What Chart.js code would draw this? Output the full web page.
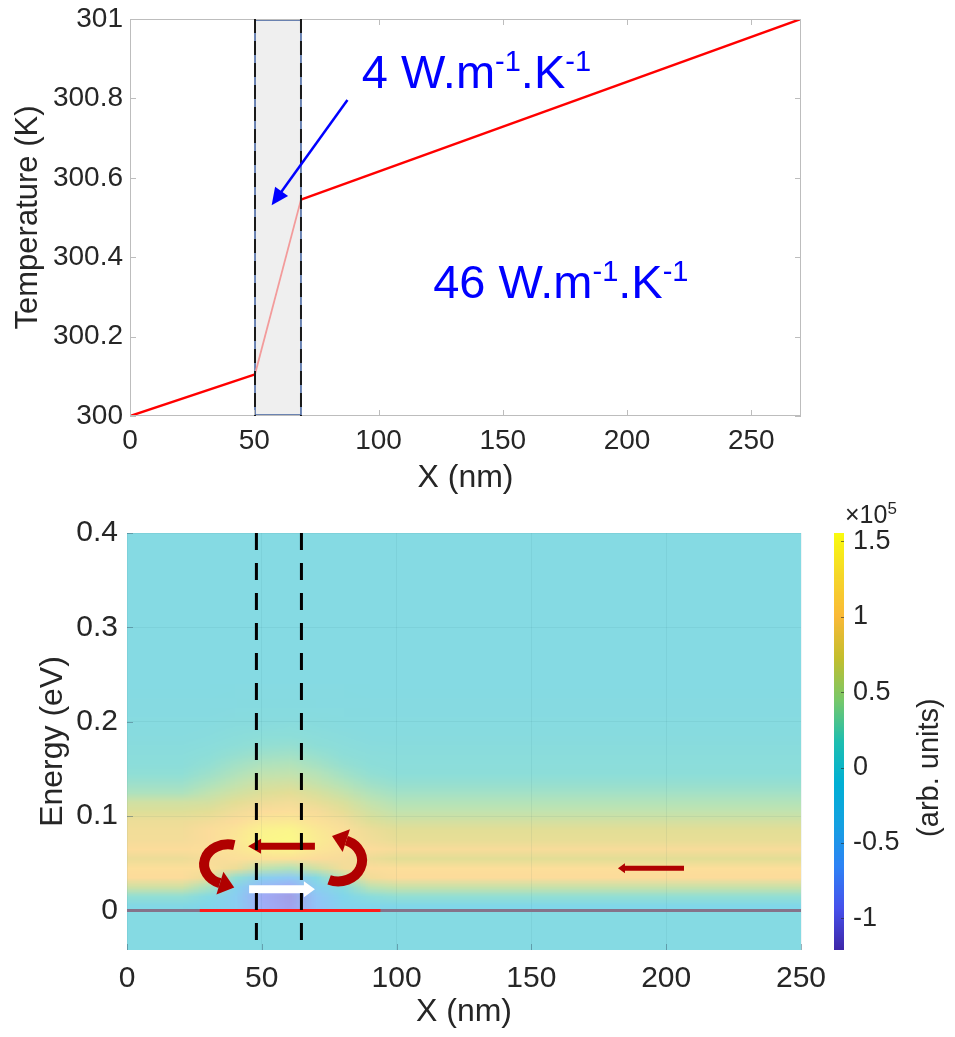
<!DOCTYPE html>
<html>
<head>
<meta charset="utf-8">
<script src="https://cdn.jsdelivr.net/npm/chart.js@4.4.1/dist/chart.umd.min.js"></script>
<style>
  html, body { margin: 0; padding: 0; background: #fff; }
  #wrap { position: relative; width: 955px; height: 1037px; }
  #top { position: absolute; left: 0; top: 0; width: 955px; height: 500px; }
  #bottom { position: absolute; left: 0; top: 500px; width: 955px; height: 537px; }
</style>
</head>
<body>
<div id="wrap">
  <canvas id="top" width="955" height="500"></canvas>
  <canvas id="bottom" width="955" height="537"></canvas>
</div>
<script>
// ---- top panel: temperature profile ----
const tempX = [0, 50.3, 68.8, 270];
const tempK = [300, 300.105, 300.545, 301];
const topXTicks = [0, 50, 100, 150, 200, 250];
const topYTicks = [300, 300.2, 300.4, 300.6, 300.8, 301];
const topBarrier = [50.3, 68.8];
const kappaLabels = ['4', '46'];

// ---- bottom panel: energy map ----
const bottomXTicks = [0, 50, 100, 150, 200, 250];
const energyTicks = [0, 0.1, 0.2, 0.3, 0.4];
const energyRange = [-0.042, 0.4];
const colorTicks = [-1, -0.5, 0, 0.5, 1, 1.5];
const colorRange = [-1.21, 1.556];
const bottomBarrier = [48, 64.7];
const redBandX = [27, 94];

// map sampled every 10 nm along X and every 0.01 eV in energy (values x1e5)
const columnX = [0, 10, 20, 30, 40, 50, 60, 70, 80, 90, 100, 110, 120, 130, 140, 150, 160, 170, 180, 190, 200, 210, 220, 230, 240, 250];
const energyLevels = [0.005, 0.015, 0.025, 0.035, 0.045, 0.055, 0.065, 0.075, 0.085, 0.095, 0.105, 0.115,
  0.125, 0.135, 0.145, 0.155, 0.165, 0.175, 0.185, 0.195, 0.205, 0.215, 0.225, 0.235];
const profileLeft = [-0.05, 0.2, 0.6, 1.0, 1.05, 0.85, 1.0, 0.92, 0.9, 0.85, 0.7, 0.6, 0.36, 0.26, 0.18, 0.13, 0.1, 0.08, 0.06, 0.04, 0.03, 0.02, 0.01, 0];
const profileX30 = [-0.15, 0.0, 0.35, 0.85, 1.05, 0.95, 1.05, 1.0, 1.0, 0.9, 0.75, 0.62, 0.48, 0.36, 0.27, 0.2, 0.15, 0.1, 0.07, 0.05, 0.03, 0.02, 0.01, 0];
const profileX40 = [-0.4, -0.4, -0.25, 0.2, 0.85, 1.05, 1.15, 1.2, 1.15, 1.0, 0.88, 0.75, 0.6, 0.48, 0.38, 0.3, 0.22, 0.16, 0.11, 0.08, 0.05, 0.03, 0.02, 0.01];
const profileX50 = [-0.85, -0.9, -0.75, -0.35, 0.5, 1.1, 1.35, 1.45, 1.4, 1.2, 1.0, 0.85, 0.7, 0.6, 0.48, 0.38, 0.28, 0.2, 0.14, 0.09, 0.06, 0.04, 0.02, 0.01];
const profileX60 = [-1.0, -1.05, -0.9, -0.5, 0.4, 1.1, 1.4, 1.5, 1.45, 1.25, 1.05, 0.9, 0.75, 0.62, 0.5, 0.4, 0.3, 0.22, 0.15, 0.1, 0.06, 0.04, 0.02, 0.01];
const profileX70 = [-0.6, -0.55, -0.35, 0.0, 0.6, 1.0, 1.2, 1.3, 1.25, 1.1, 0.95, 0.8, 0.65, 0.52, 0.42, 0.32, 0.24, 0.17, 0.12, 0.08, 0.05, 0.03, 0.02, 0.01];
const profileX80 = [-0.25, -0.15, 0.05, 0.45, 0.9, 0.95, 1.05, 1.1, 1.05, 0.92, 0.78, 0.66, 0.52, 0.4, 0.3, 0.22, 0.16, 0.12, 0.09, 0.06, 0.04, 0.03, 0.02, 0.01];
const profileX90 = [-0.15, 0.1, 0.45, 0.9, 1.0, 0.85, 1.0, 0.9, 0.85, 0.7, 0.6, 0.5, 0.38, 0.28, 0.2, 0.15, 0.12, 0.09, 0.06, 0.04, 0.03, 0.02, 0.01, 0];
const profileFar = [-0.1, 0.2, 0.55, 1.0, 1.05, 0.75, 0.95, 0.8, 0.75, 0.62, 0.5, 0.4, 0.3, 0.22, 0.15, 0.12, 0.1, 0.08, 0.06, 0.04, 0.03, 0.02, 0.01, 0];

const nearProfiles = { 30: profileX30, 40: profileX40, 50: profileX50, 60: profileX60, 70: profileX70, 80: profileX80, 90: profileX90 };

function profileAt(x) {
  if (nearProfiles[x]) {
    return nearProfiles[x];
  }
  return x < 30 ? profileLeft : profileFar;
}

// annotation placement (data coordinates)
const topNotes = {
  arrowFrom: [87.5, 300.796],
  arrowTo: [57, 300.531],
  label4: [93.3, 300.826],
  label46: [122, 300.297]
};
const bottomNotes = {
  leftCurl: [37.5, 0.0488],
  rightCurl: [78.3, 0.053],
  redArrow: [[69.7, 0.068], [44.9, 0.068]],
  whiteArrow: [[45.3, 0.0223], [69.7, 0.0223]],
  farArrow: [[206.6, 0.0446], [182.1, 0.0446]]
};

const FONT = '"Liberation Sans", Arial, Helvetica, sans-serif';
const INK = '#262626';
const DARK_RED = '#b00000';
const heatAlpha = 0.5;
Chart.defaults.font.family = FONT;
Chart.defaults.color = INK;

const parulaStops = [
  [0.0, 62, 38, 168], [0.1, 70, 80, 235], [0.2, 45, 130, 245], [0.3, 20, 160, 225],
  [0.4, 0, 175, 212], [0.5, 30, 190, 175], [0.6, 120, 200, 105], [0.7, 195, 190, 45],
  [0.8, 250, 185, 55], [0.9, 245, 215, 40], [1.0, 249, 251, 14]
];

function parula(t) {
  const f = Math.min(1, Math.max(0, t));
  for (let i = 1; i < parulaStops.length; i++) {
    const a = parulaStops[i - 1];
    const b = parulaStops[i];
    if (f <= b[0]) {
      const k = (f - a[0]) / (b[0] - a[0]);
      return [1, 2, 3].map((c) => a[c] + (b[c] - a[c]) * k);
    }
  }
  return parulaStops[parulaStops.length - 1].slice(1);
}

function colorFraction(v) {
  return (v - colorRange[0]) / (colorRange[1] - colorRange[0]);
}

function heatColor(v) {
  return parula(colorFraction(v)).map((c) => Math.round(c * heatAlpha + 255 * (1 - heatAlpha)));
}

function buildHeatImage() {
  const img = document.createElement('canvas');
  img.width = columnX.length;
  img.height = energyLevels.length;
  const ictx = img.getContext('2d');
  const pixels = ictx.createImageData(img.width, img.height);
  columnX.forEach((x, i) => {
    const profile = profileAt(x);
    energyLevels.forEach((e, j) => {
      const [r, g, b] = heatColor(profile[j]);
      const k = ((img.height - 1 - j) * img.width + i) * 4;
      pixels.data[k] = r;
      pixels.data[k + 1] = g;
      pixels.data[k + 2] = b;
      pixels.data[k + 3] = 255;
    });
  });
  ictx.putImageData(pixels, 0, 0);
  return img;
}

function blockArrow(ctx, x1, y1, x2, y2, shaft, headLen, headW, color) {
  const ang = Math.atan2(y2 - y1, x2 - x1);
  const len = Math.hypot(x2 - x1, y2 - y1);
  ctx.save();
  ctx.translate(x1, y1);
  ctx.rotate(ang);
  ctx.fillStyle = color;
  ctx.beginPath();
  ctx.moveTo(0, -shaft / 2);
  ctx.lineTo(len - headLen, -shaft / 2);
  ctx.lineTo(len - headLen, -headW / 2);
  ctx.lineTo(len, 0);
  ctx.lineTo(len - headLen, headW / 2);
  ctx.lineTo(len - headLen, shaft / 2);
  ctx.lineTo(0, shaft / 2);
  ctx.closePath();
  ctx.fill();
  ctx.restore();
}

function curlArrow(ctx, cx, cy, rx, ry, a0, a1, color) {
  const r0 = a0 * Math.PI / 180;
  const r1 = a1 * Math.PI / 180;
  ctx.save();
  ctx.strokeStyle = color;
  ctx.fillStyle = color;
  ctx.lineWidth = 10;
  ctx.lineCap = 'butt';
  ctx.beginPath();
  ctx.ellipse(cx, cy, rx, ry, 0, r0, r1, true);
  ctx.stroke();
  const ex = cx + rx * Math.cos(r1);
  const ey = cy + ry * Math.sin(r1);
  const dx = rx * Math.sin(r1);
  const dy = -ry * Math.cos(r1);
  const n = Math.hypot(dx, dy);
  const ux = dx / n;
  const uy = dy / n;
  const headLen = 15;
  const headW = 12;
  ctx.beginPath();
  ctx.moveTo(ex - uy * headW, ey + ux * headW);
  ctx.lineTo(ex + ux * headLen, ey + uy * headLen);
  ctx.lineTo(ex + uy * headW, ey - ux * headW);
  ctx.closePath();
  ctx.fill();
  ctx.restore();
}

function drawUnitLabel(ctx, x, y, lead) {
  const size = 47;
  const sup = 29;
  const parts = [[lead + ' W.m', false], ['-1', true], ['.K', false], ['-1', true]];
  let cx = x;
  ctx.save();
  ctx.fillStyle = '#0000ff';
  ctx.textBaseline = 'alphabetic';
  ctx.textAlign = 'left';
  parts.forEach(([text, isSup]) => {
    ctx.font = `${isSup ? sup : size}px ${FONT}`;
    ctx.fillText(text, cx, isSup ? y - 17 : y);
    cx += ctx.measureText(text).width;
  });
  ctx.restore();
}

function fixedTicks(values) {
  return (scale) => {
    scale.ticks = values.map((v) => ({ value: v }));
  };
}

// keep the plot box where it is: no extra room for half labels
function fixWidth(w) {
  return (s) => {
    s.width = w;
    s.paddingTop = 0;
    s.paddingBottom = 0;
  };
}

function fixHeight(h) {
  return (s) => {
    s.height = h;
    s.paddingLeft = 0;
    s.paddingRight = 0;
  };
}

// ---------------- top chart ----------------
const topDecor = {
  id: 'topDecor',
  beforeDatasetsDraw(chart) {
    const { ctx, chartArea: a, scales: { x } } = chart;
    const x0 = x.getPixelForValue(topBarrier[0]);
    const x1 = x.getPixelForValue(topBarrier[1]);
    ctx.save();
    ctx.fillStyle = '#efefef';
    ctx.fillRect(x0, a.top, x1 - x0, a.bottom - a.top);
    ctx.strokeStyle = '#3f5f9c';
    ctx.lineWidth = 1.5;
    ctx.strokeRect(x0, a.top + 1, x1 - x0, a.bottom - a.top - 2);
    ctx.restore();
  },
  afterDatasetsDraw(chart) {
    const { ctx, chartArea: a, scales: { x, y } } = chart;
    ctx.save();
    // frame with inward ticks
    ctx.strokeStyle = '#bdbdbd';
    ctx.lineWidth = 1;
    ctx.strokeRect(a.left + 0.5, a.top + 0.5, a.right - a.left - 1, a.bottom - a.top - 1);
    ctx.beginPath();
    topXTicks.forEach((v) => {
      const px = Math.round(x.getPixelForValue(v)) + 0.5;
      ctx.moveTo(px, a.bottom); ctx.lineTo(px, a.bottom - 6);
      ctx.moveTo(px, a.top); ctx.lineTo(px, a.top + 6);
    });
    topYTicks.forEach((v) => {
      const py = Math.round(y.getPixelForValue(v)) + 0.5;
      ctx.moveTo(a.left, py); ctx.lineTo(a.left + 6, py);
      ctx.moveTo(a.right, py); ctx.lineTo(a.right - 6, py);
    });
    ctx.stroke();
    // dashed barrier edges
    ctx.strokeStyle = '#1a1a1a';
    ctx.lineWidth = 2;
    ctx.setLineDash([14, 8]);
    topBarrier.forEach((v) => {
      const px = x.getPixelForValue(v);
      ctx.beginPath();
      ctx.moveTo(px, a.top);
      ctx.lineTo(px, a.bottom);
      ctx.stroke();
    });
    ctx.setLineDash([]);
    // blue arrow
    const fx = x.getPixelForValue(topNotes.arrowFrom[0]);
    const fy = y.getPixelForValue(topNotes.arrowFrom[1]);
    const tx = x.getPixelForValue(topNotes.arrowTo[0]);
    const ty = y.getPixelForValue(topNotes.arrowTo[1]);
    const ang = Math.atan2(ty - fy, tx - fx);
    const headLen = 17;
    const headW = 8;
    ctx.strokeStyle = '#0000ff';
    ctx.fillStyle = '#0000ff';
    ctx.lineWidth = 2.5;
    ctx.beginPath();
    ctx.moveTo(fx, fy);
    ctx.lineTo(tx - Math.cos(ang) * headLen * 0.8, ty - Math.sin(ang) * headLen * 0.8);
    ctx.stroke();
    ctx.beginPath();
    ctx.moveTo(tx, ty);
    ctx.lineTo(tx - Math.cos(ang) * headLen - Math.sin(ang) * headW, ty - Math.sin(ang) * headLen + Math.cos(ang) * headW);
    ctx.lineTo(tx - Math.cos(ang) * headLen + Math.sin(ang) * headW, ty - Math.sin(ang) * headLen - Math.cos(ang) * headW);
    ctx.closePath();
    ctx.fill();
    ctx.restore();
    drawUnitLabel(ctx, x.getPixelForValue(topNotes.label4[0]), y.getPixelForValue(topNotes.label4[1]), kappaLabels[0]);
    drawUnitLabel(ctx, x.getPixelForValue(topNotes.label46[0]), y.getPixelForValue(topNotes.label46[1]), kappaLabels[1]);
  }
};

new Chart(document.getElementById('top'), {
  type: 'line',
  data: {
    datasets: [{
      data: tempX.map((x, i) => ({ x, y: tempK[i] })),
      borderColor: '#ff0000',
      borderWidth: 2.5,
      pointRadius: 0,
      tension: 0,
      segment: {
        borderColor: (c) => (c.p0DataIndex === 1 ? '#f39b9b' : '#ff0000'),
        borderWidth: (c) => (c.p0DataIndex === 1 ? 1.8 : 2.5)
      }
    }]
  },
  options: {
    responsive: false,
    animation: false,
    layout: { padding: { top: 19, right: 154, left: 0, bottom: 0 } },
    plugins: { legend: { display: false }, tooltip: { enabled: false } },
    scales: {
      x: {
        type: 'linear',
        min: 0,
        max: 270,
        afterBuildTicks: fixedTicks(topXTicks),
        afterFit: fixHeight(84),
        grid: { display: false, drawTicks: false },
        border: { display: false },
        ticks: { color: INK, font: { size: 28 }, padding: 8, maxRotation: 0, autoSkip: false, callback: (v) => String(v) },
        title: { display: true, text: 'X (nm)', color: INK, font: { size: 32 }, padding: { top: 0, bottom: 3 } }
      },
      y: {
        type: 'linear',
        min: 300,
        max: 301,
        afterBuildTicks: fixedTicks(topYTicks),
        afterFit: fixWidth(130),
        grid: { display: false, drawTicks: false },
        border: { display: false },
        ticks: { color: INK, font: { size: 28 }, padding: 7, autoSkip: false, callback: (v) => String(v) },
        title: { display: true, text: 'Temperature (K)', color: INK, font: { size: 31 }, padding: { top: 10, bottom: 0 } }
      }
    }
  },
  plugins: [topDecor]
});

// ---------------- bottom chart ----------------
const heatImage = buildHeatImage();

const heatMap = {
  id: 'heatMap',
  beforeDraw(chart) {
    const { ctx, chartArea: a, scales: { x, y } } = chart;
    const halfX = (columnX[1] - columnX[0]) / 2;
    const halfE = (energyLevels[1] - energyLevels[0]) / 2;
    const left = x.getPixelForValue(columnX[0] - halfX);
    const right = x.getPixelForValue(columnX[columnX.length - 1] + halfX);
    const top = y.getPixelForValue(energyLevels[energyLevels.length - 1] + halfE);
    const bottom = y.getPixelForValue(energyLevels[0] - halfE);
    const [r, g, b] = heatColor(0);
    ctx.save();
    ctx.beginPath();
    ctx.rect(a.left, a.top, a.right - a.left, a.bottom - a.top);
    ctx.clip();
    ctx.fillStyle = `rgb(${r},${g},${b})`;
    ctx.fillRect(a.left, a.top, a.right - a.left, a.bottom - a.top);
    ctx.imageSmoothingEnabled = true;
    ctx.drawImage(heatImage, left, top, right - left, bottom - top);
    ctx.restore();
  },
  beforeDatasetsDraw(chart) {
    const { ctx, chartArea: a, scales: { x, y } } = chart;
    const px = (p) => [x.getPixelForValue(p[0]), y.getPixelForValue(p[1])];
    ctx.save();
    // small inward ticks
    ctx.strokeStyle = 'rgba(60,90,110,0.45)';
    ctx.lineWidth = 1;
    ctx.beginPath();
    energyTicks.forEach((v) => {
      const py = Math.round(y.getPixelForValue(v)) + 0.5;
      ctx.moveTo(a.left, py); ctx.lineTo(a.left + 6, py);
    });
    bottomXTicks.forEach((v) => {
      const pxv = Math.round(x.getPixelForValue(v)) + 0.5;
      ctx.moveTo(pxv, a.bottom); ctx.lineTo(pxv, a.bottom - 6);
    });
    ctx.stroke();
    ctx.restore();

    const [lx, ly] = px(bottomNotes.leftCurl);
    curlArrow(ctx, lx, ly, 24, 20, -75, 110, DARK_RED);
    const [rx, ry] = px(bottomNotes.rightCurl);
    curlArrow(ctx, rx, ry, 24, 21, 112, -70, DARK_RED);
    const [a1, a2] = bottomNotes.redArrow.map(px);
    blockArrow(ctx, a1[0], a1[1], a2[0], a2[1], 7, 13, 15, DARK_RED);
    const [w1, w2] = bottomNotes.whiteArrow.map(px);
    blockArrow(ctx, w1[0], w1[1], w2[0], w2[1], 8, 11, 16, '#ffffff');
    const [f1, f2] = bottomNotes.farArrow.map(px);
    blockArrow(ctx, f1[0], f1[1], f2[0], f2[1], 5, 7, 10, DARK_RED);
  },
  afterDraw(chart) {
    const { ctx, scales: { cbar } } = chart;
    const barLeft = cbar.left + 33;
    const barW = 10;
    ctx.save();
    for (let py = Math.floor(cbar.top); py < Math.ceil(cbar.bottom); py++) {
      const c = parula(colorFraction(cbar.getValueForPixel(py + 0.5))).map(Math.round);
      ctx.fillStyle = `rgb(${c[0]},${c[1]},${c[2]})`;
      ctx.fillRect(barLeft, py, barW, 1);
    }
    ctx.strokeStyle = 'rgba(40,40,40,0.6)';
    ctx.lineWidth = 1;
    ctx.beginPath();
    colorTicks.forEach((v) => {
      const py = Math.round(cbar.getPixelForValue(v)) + 0.5;
      ctx.moveTo(barLeft + barW - 3, py); ctx.lineTo(barLeft + barW, py);
    });
    ctx.stroke();
    // exponent
    ctx.fillStyle = INK;
    ctx.textBaseline = 'alphabetic';
    ctx.textAlign = 'left';
    ctx.font = `25px ${FONT}`;
    ctx.fillText('\u00d710', barLeft + 11, 23);
    const w = ctx.measureText('\u00d710').width;
    ctx.font = `17px ${FONT}`;
    ctx.fillText('5', barLeft + 11 + w, 14);
    // colour bar title
    ctx.translate(930, cbar.getPixelForValue(0));
    ctx.rotate(-Math.PI / 2);
    ctx.textAlign = 'center';
    ctx.textBaseline = 'middle';
    ctx.font = `29px ${FONT}`;
    ctx.fillText('(arb. units)', 0, 0);
    ctx.restore();
  }
};

const barrierSets = bottomBarrier.map((bx) => ({
  data: [{ x: bx, y: energyRange[1] }, { x: bx, y: energyRange[0] }],
  borderColor: '#000000',
  borderWidth: 3,
  borderDash: [17, 13],
  pointRadius: 0
}));

new Chart(document.getElementById('bottom'), {
  type: 'line',
  data: {
    datasets: [
      ...barrierSets,
      {
        data: redBandX.map((x) => ({ x, y: 0 })),
        borderColor: '#ff1a1a',
        borderWidth: 3,
        pointRadius: 0
      },
      {
        data: [{ x: bottomXTicks[0], y: 0 }, { x: bottomXTicks[bottomXTicks.length - 1], y: 0 }],
        borderColor: '#85738a',
        borderWidth: 3,
        pointRadius: 0
      }
    ]
  },
  options: {
    responsive: false,
    animation: false,
    layout: { padding: { top: 33, right: 0, left: 0, bottom: 0 } },
    plugins: { legend: { display: false }, tooltip: { enabled: false } },
    scales: {
      x: {
        type: 'linear',
        min: 0,
        max: 250,
        afterBuildTicks: fixedTicks(bottomXTicks),
        afterFit: fixHeight(87),
        grid: { color: 'rgba(0,60,80,0.06)', drawTicks: false },
        border: { display: false },
        ticks: { color: INK, font: { size: 30 }, padding: 11, maxRotation: 0, autoSkip: false, callback: (v) => String(v) },
        title: { display: true, text: 'X (nm)', color: INK, font: { size: 32 }, padding: { top: 0, bottom: 6 } }
      },
      y: {
        type: 'linear',
        min: energyRange[0],
        max: energyRange[1],
        afterBuildTicks: fixedTicks(energyTicks),
        afterFit: fixWidth(127),
        grid: { color: 'rgba(0,60,80,0.06)', drawTicks: false },
        border: { display: false },
        ticks: { color: INK, font: { size: 30 }, padding: 9, autoSkip: false, callback: (v) => String(v) },
        title: { display: true, text: 'Energy (eV)', color: INK, font: { size: 32 }, padding: { top: 34, bottom: 0 } }
      },
      cbar: {
        type: 'linear',
        position: 'right',
        min: colorRange[0],
        max: colorRange[1],
        afterBuildTicks: fixedTicks(colorTicks),
        afterFit: fixWidth(154),
        grid: { display: false, drawTicks: false },
        border: { display: false },
        ticks: { color: INK, font: { size: 27 }, padding: 52, autoSkip: false, callback: (v) => String(v) }
      }
    }
  },
  plugins: [heatMap]
});
</script>
</body>
</html>
